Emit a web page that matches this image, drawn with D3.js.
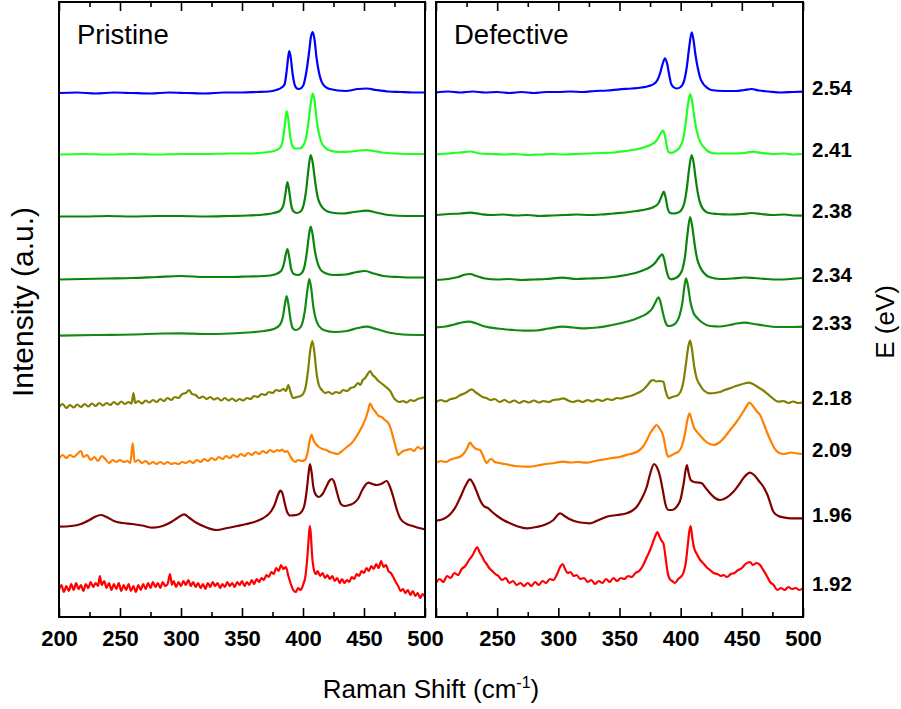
<!DOCTYPE html>
<html>
<head>
<meta charset="utf-8">
<script src="https://cdn.jsdelivr.net/npm/d3@7"></script>
<style>
  body { margin: 0; background: #fff; }
  text { font-family: Arial, "Liberation Sans", sans-serif; }
</style>
</head>
<body>
<script>
// excitation energies (eV), top to bottom
const energies = ["2.54", "2.41", "2.38", "2.34", "2.33", "2.18", "2.09", "1.96", "1.92"];
// vertical stacking offset of each spectrum (a.u.)
const offsets = [525, 463, 402, 338, 290, 215, 163, 98, 29];
const colors = ["#0000ff", "#22ff22", "#0a840a", "#0a840a", "#138a13", "#808000", "#ff8000", "#800000", "#ff0000"];

// spectra: [Raman shift (cm-1), intensity above offset (a.u.)]
// ---- Pristine ----
const p254 = [[200,-1],[215,-0.5],[230,-1.5],[245,-0.5],[260,-1],[275,-1.5],[290,-0.5],[305,-1],[320,-1.5],[335,-0.5],[350,-0.5],[362,0],[372,0.5],[378,2],[382,4],[385,8],[386.5,20],[388,36],[388.8,41],[390,34],[391.5,18],[393,8],[395,3.5],[397,3],[400,6],[403,22],[405,40],[406.5,55],[408,60],[409.5,52],[411,35],[413,20],[415,11],[418,5.5],[422,3],[435,1],[445,3],[452,3.5],[460,2],[470,0.5],[480,0],[490,-0.5],[500,-0.5]];
const p241 = [[200,-0.5],[220,0],[240,-0.5],[260,0],[280,-0.5],[300,0],[320,0],[340,0.5],[355,0.5],[368,1.5],[376,3],[381,6],[383.5,14],[385,28],[386.6,43],[388,34],[389.5,18],[391,9],[393.5,5.5],[397,5.5],[400,8],[402.5,16],[404.5,32],[406.5,52],[408,60.5],[409.5,53],[411,36],[413,21],[415,12],[418,6.5],[422,3.5],[430,2],[440,2.5],[446,3.5],[452,4],[458,3],[465,1.5],[475,0.5],[490,0],[500,0]];
const p238 = [[200,-1.5],[220,-1.5],[240,-1],[260,-1.5],[280,-1],[300,-1],[320,-1.5],[340,-1],[355,-0.5],[368,0.5],[376,2],[381,4],[384,10],[385.7,22],[387.2,33],[388.7,24],[390.3,10],[392,4],[395,2],[398,3.5],[400.5,10],[402.5,24],[404.5,46],[406.3,60],[408,52],[410,33],[412,18],[414.5,10],[418,5],[423,2.5],[432,1.5],[442,3],[452,4.3],[460,2.5],[470,0],[485,-1],[500,-1]];
const p234 = [[200,-0.5],[220,0],[240,0.5],[260,1],[280,2],[300,3],[320,2],[340,2],[355,2.5],[368,3],[377,4.5],[382,8],[384.5,16],[386,25],[387.3,30],[388.7,22],[390.3,10],[392.5,5],[396,4],[399,6],[401.5,14],[403.5,30],[405,45],[406.3,52.3],[407.8,45],[409.5,30],[411.5,18],[414,10],[418,6],[425,4],[435,4.5],[444,7],[450.8,8],[458,5.5],[466,3],[478,2],[490,1.5],[500,1.5]];
const p233 = [[200,-8.7],[230,-8],[260,-7.5],[285,-6.5],[300,-6.3],[320,-7],[340,-6.5],[355,-5.5],[368,-4],[376,-2],[381,2],[383.5,10],[385.2,23],[386.6,31],[388,23],[389.7,8],[391.5,-1],[394,-3],[397,-1.5],[399.5,4],[401.5,16],[403.5,36],[405.2,48],[406.8,38],[408.5,20],[410.5,8],[413,1],[418,-3.5],[426,-5],[436,-4],[445,-1],[452,0.3],[460,-2],[470,-5.5],[482,-7.5],[500,-8]];
const p218 = [[200,-5],[203,-2],[206,-6],[209,-3],[212,-5.5],[215,-2.5],[218,-5],[221,-2],[224,-4.5],[227,-1.5],[230,-4],[233,-1],[236,-3.5],[239,-1],[242,-3],[245,0],[248,-2.5],[251,0.5],[254,-2],[257,0],[259.5,-1.5],[261,9],[262.5,-1],[265,1],[268,-1.5],[271,1.5],[274,-0.5],[277,2],[280,0],[283,3],[286,1],[289,4],[292,2],[295,5],[298,4],[301,8],[304,9],[306.6,12],[309,8],[312,7],[315,4],[318,5.5],[321,3],[324,5],[327,2.5],[330,4],[333,1.5],[336,4],[339,1.5],[342,3.5],[345,1],[348,3],[351,1.5],[354,4],[357,3],[360,6],[363,5],[366,8],[369,7],[372,10],[375,9],[378,12],[381,11],[384,13],[386,11],[388,17],[390,9],[392,4],[395,5],[398,6],[400,8],[402,14],[404,30],[406,52],[407.7,61],[409.3,50],[411,30],[413,17],[415.5,12],[418,9],[421,10],[424,8],[427,10],[430,9],[433,12],[436,11],[439,14],[442,15],[445,19],[447,17],[449,22],[451,24],[453,28],[455,31],[457,27],[459,25],[461,22],[463,20],[466,17],[468,15],[470,13],[472,10],[474,5],[476,2],[479,0],[482,1],[485,-0.5],[488,2],[491,1],[494,3],[497,4],[500,5]];
const p209 = [[200,-5],[203,-1],[206,-4],[209,-1],[212,-3],[215,0],[218,3],[220,-3],[223,-1],[226,-6],[229,-3],[232,-7],[235,-2],[238,-5],[241,-9],[244,-6],[247,-8],[250,-6],[253,-8],[256,-7],[258.5,-9],[260.4,11],[262,-8],[265,-6],[268,-9],[271,-7],[274,-10],[277,-8],[280,-10],[283,-8],[286,-10],[289,-8],[292,-10],[295,-9],[298,-10],[301,-8],[304,-9],[307,-7],[310,-9],[313,-6],[316,-8],[319,-5],[322,-7],[325,-4],[328,-6],[331,-3],[334,-5],[337,-2],[340,-4],[343,-1],[346,-3],[349,0],[352,-2],[355,1],[358,-1],[361,2],[364,0],[367,3],[370,1],[373,4],[376,2],[379,4],[381,3],[383,4.5],[385,2],[387,3],[389,-1],[391,-5],[393.5,-8],[396,-6],[399,-7],[401.6,-6],[403.5,0],[405.3,12],[407,19.5],[408.5,14],[410.5,10],[413,7],[416,5],[419,4],[422,2],[425,1],[428,0],[431,2],[434,5],[437,8],[440,11],[443,16],[446,22],[449,29],[451.5,36],[453.5,44],[454.9,50.5],[457,46],[459.5,42],[462,38],[464.5,37],[467,34],[470,31],[472,25],[474,16],[476,7],[478,-1],[480,1],[482,3],[485,4],[488,5],[491,3],[494,7],[497,5],[500,8]];
const p196 = [[200,-7.7],[210,-7],[218,-5],[225,-1],[230,2.5],[234.4,4],[239,2],[245,-2],[252,-4],[260,-5],[268,-6.5],[277,-8.7],[285,-7],[292,-3],[297,1],[302.5,4.7],[307,1],[313,-4],[320,-8],[329,-11],[338,-9],[346,-7],[353.6,-5],[360,-3],[366,0],[370,3],[374,8],[377,15],[379.5,24],[381.4,28.3],[383.3,25],[385,16],[387,7],[389.5,3.5],[394.5,4],[398,6],[401,13],[403,28],[404.6,46],[405.7,55],[407,47],[408.5,32],[410.6,24],[413,22],[416,25],[419,32],[421.5,38],[423.5,40],[425.5,37],[428,26],[431,15],[434,13],[438,14],[441.3,15.7],[445,20],[449,30],[453.6,36.3],[457,35],[460.4,34],[464,35],[468.6,38],[471,33],[474,22],[477,9],[480,0],[485,-5],[490,-7],[495,-9],[500,-10.3]];
const p192 = [[200,-2],[202,3],[204,-4],[206,2],[208,-3],[210,4],[212,-2],[214,5],[216,-1],[218,3],[220,-3],[222,4],[224,0],[226,6],[228,1],[230,5],[232,2],[233.5,12],[235,3],[237,7],[239,0],[241,5],[243,-2],[245,4],[247,-1],[249,5],[251,-3],[253,3],[255,-2],[257,4],[259,-3],[261,2],[263,-4],[265,3],[267,-2],[269,4],[271,-1],[273,5],[275,0],[277,6],[279,1],[281,5],[283,0],[285,6],[287,2],[289,4],[291,14],[292.5,3],[294,7],[296,1],[298,6],[300,2],[302,7],[304,3],[306,8],[308,2],[310,6],[312,1],[314,5],[316,0],[318,4],[320,-1],[322,5],[324,1],[326,6],[328,2],[330,5],[332,0],[334,4],[336,1],[338,6],[340,2],[342,5],[344,1],[346,6],[348,3],[350,7],[352,2],[354,6],[356,3],[358,8],[360,4],[362,9],[364,6],[366,10],[368,8],[370,13],[372,11],[374,16],[376,14],[378,20],[380,17],[382,23],[384,19],[386,21],[388,12],[390,4],[392,-2],[394,-4],[396,0],[398,-2],[400,3],[402,12],[403.5,30],[405,55],[405.7,62],[406.5,52],[407.5,32],[409,18],[410.6,14],[412,17],[414,12],[416,15],[418,10],[420,13],[422,9],[424,12],[426,7],[428,10],[430,5],[432,9],[434,5],[436,8],[438,6],[440,11],[442,9],[444,14],[446,12],[448,17],[450,15],[452,20],[454,17],[456,22],[458,19],[460,24],[462,20],[464,27],[466,21],[468,23],[470,17],[472,15],[474,11],[476,6],[478,2],[480,-3],[482,-1],[484,-5],[486,-2],[488,-7],[490,-3],[492,-8],[494,-5],[496,-10],[498,-6],[500,-9]];

// ---- Defective ----
const d254 = [[200,-0.5],[210,0.5],[220,-0.5],[230,0.5],[240,-0.5],[250,0],[260,-1],[270,0],[280,-1],[290,0],[300,0],[310,0.5],[320,0],[330,1],[340,1.5],[350,2.7],[360,3.5],[368,4.5],[374,6],[378,8],[381,12],[383,18],[385,27],[387.2,33.7],[389,28],[390.5,18],[392,9],[394,5],[396.8,3.5],[400,5],[403,12],[405,25],[407,45],[409,59.7],[410.5,52],[412,38],[414,24],[416,14],[418.5,8],[421.2,4.7],[425,2],[435,1],[445,1],[452,2],[458,3],[464,1.5],[472,0.5],[482,-0.5],[492,0],[500,0.3]];
const d241 = [[200,-0.5],[210,0.5],[220,1.5],[228,2.5],[236,0.5],[245,0],[255,-0.5],[265,0],[275,-1],[285,-0.5],[295,0],[305,-0.5],[315,0],[325,0.5],[335,1],[345,1.5],[355,3],[363,4.5],[370,6.5],[376,9.5],[380,13],[383,19],[385.4,23.3],[387,19],[388.5,9],[390,2],[392.5,1.2],[396,3],[399.5,7.3],[402,15],[404,30],[406,50],[407.7,60],[409.3,53],[411,38],[413,24],[415,15],[418.6,7.3],[422,3],[427,0.7],[435,0.5],[445,0.5],[452,1],[459,2.3],[466,1],[475,0],[485,0.5],[492,-0.5],[500,0]];
const d238 = [[200,0],[210,1],[220,1.5],[228,2.3],[236,1],[245,0],[255,0.5],[265,-0.5],[275,0],[285,-1],[295,-0.5],[305,0],[315,0.5],[325,0],[335,0.5],[345,1.5],[355,2.5],[364,4],[372,5.7],[378,8],[382,12],[384.5,19],[386.2,23.3],[387.8,17],[389.5,6],[391.5,2],[394,1.5],[397,2],[400,4],[403,12],[405,26],[407,47],[409,60],[410.6,52],[412.3,36],[414.3,20],[416.5,10],[419,5],[423,2],[430,1],[440,0.5],[450,1],[458,2],[466,1],[475,0],[485,0.5],[492,-0.5],[500,-0.7]];
const d234 = [[200,-1],[210,0],[218,2],[224,4.5],[228,5],[233,3],[240,0.5],[250,-0.5],[260,0],[270,-1],[280,-0.5],[290,0],[303.6,1.3],[315,0],[325,0.5],[335,1],[345,2],[355.5,4],[363,6],[370,9],[375,12],[379,16],[382,21],[385,24.7],[386.5,20],[388.5,8],[390.5,1],[392.6,-0.3],[396,1],[399,4],[401.5,10],[403.5,22],[405.5,44],[407.7,62],[409.5,52],[411.5,34],[413.5,20],[415.8,12.3],[419,6],[424,1.7],[432,0],[442,0.5],[452,1.5],[460,1],[470,0],[480,-0.5],[490,0],[500,1]];
const d233 = [[200,-0.3],[208,0.5],[215,2.5],[221,4.5],[227,5.3],[233,3.5],[240,0.5],[250,-1.5],[263,-3],[272,-3.7],[282,-3.5],[292,-1.5],[303.6,0.3],[312,-0.5],[322,-1.3],[332,-0.5],[342,1.5],[350.8,3.7],[358,6],[365,9],[372.6,13.7],[376.5,18],[379.5,25],[381.8,29.7],[383.5,25],[385.5,14],[387.5,5],[390,1],[393,1.5],[396,4],[399,11],[401.5,25],[403,40],[404.4,48.7],[406,41],[408,25],[410.5,14],[413,9.7],[417,5],[424,1],[432,0.5],[440,2],[446,3.5],[452.6,4.3],[460,3],[468,1.5],[478,0],[490,0],[500,0.3]];
const d218 = [[200,0],[204,2],[208,0.5],[212,3],[216,4],[220,7],[224,9],[227,11.5],[229.2,12.7],[232,10],[235,7.5],[238,5],[241,4],[244.7,2],[248,3],[252,0],[256,2],[260,-0.5],[264,1.5],[268,-1],[272,1],[276,-0.5],[280,1.5],[284,-0.5],[288,1],[292,0],[296,2],[300,2.5],[304,3.7],[308,1.5],[312,0],[316,1.5],[320,0],[324,2],[328,0.5],[332,2.5],[336,1],[340,3],[344,2],[348,4],[351,3.5],[355,5],[359,6],[363,8],[367,10.3],[370,13],[373,17],[375.5,21],[377.7,22],[380,20.5],[382.5,21],[385.9,20.3],[387.5,12],[389,6],[390.5,3.7],[393,5],[396,6],[398,7],[400.5,12],[402.5,22],[404.5,40],[406.3,56],[407.7,61.3],[409.2,53],[411,36],[413,24],[415.8,17],[419,11.5],[424,8.7],[428,9],[432,10],[436,12],[440.3,13.7],[444,15.5],[448,17],[452,18.5],[455.4,19.3],[459,18],[463,15],[467,12],[470.4,8.7],[474,5],[477,2],[480,0.3],[484,1],[488,-1],[492,0.5],[496,-1],[500,-0.3]];
const d209 = [[200,-8.7],[204,-7],[208,-8],[212,-5.5],[216,-4],[220,-2.5],[223,1],[225.5,6],[227.8,11.3],[230,8],[233,5],[236,4],[238.5,-2],[241.4,-9],[243.5,-6],[245.5,-5],[248,-8],[252,-9],[256,-10],[260.5,-11],[265,-12],[270,-12.5],[276.9,-12.7],[283,-11.5],[290,-10],[297,-9],[303.6,-7.7],[310,-8.5],[316,-8],[323.2,-8.7],[330,-7],[337,-5.5],[344,-4],[350.8,-2.7],[357,-0.5],[364.4,2.3],[369,7],[372,13],[375,20.7],[378,26],[380.4,29],[382.5,26],[385.9,17.3],[387.5,7],[389.6,-2.7],[393,-1],[396,1],[398.2,2.3],[401,8],[403.5,20],[405.5,34],[407.2,40.7],[409,34],[411,26],[413.2,22.3],[417,17],[421,12],[426.8,9],[431,11],[436,17],[440.4,24],[445,31],[450,40],[453.5,47],[456.2,51.3],[459,48],[462,43],[464.9,39],[468,30],[470.5,22],[473.3,14],[476.5,6],[480.1,1.3],[485,0],[490,1.5],[495,0.5],[500,0]];
const d196 = [[200,-1.7],[206,0],[211,4],[216,12],[220,22],[224,33],[227.8,39.7],[231,34],[234,25],[236,19],[239,13],[242.8,10.7],[246,7],[250,3],[255,-1],[261,-4.5],[267,-7.5],[274.2,-9.3],[282,-8],[290.5,-5],[296,-1],[301.4,5.7],[305,3],[309,0],[312.3,-1.7],[318,-3.5],[325.9,-4.3],[333,-1],[339.6,2.3],[348,4],[355.9,5.7],[360,8],[364.1,12.3],[368,20],[372.3,32.3],[375,45],[378.3,55],[380.5,52],[383.2,42.3],[385.5,28],[387.5,15],[390,9],[393,9],[396.8,12.3],[400,20],[402.5,36],[405,54],[406.5,46],[408.2,39],[411,37],[414,36.5],[417.2,35.7],[420.5,31],[424,25.7],[428,21],[432.2,19],[437,21],[443.1,27.3],[448,35],[452,42],[456.7,46.3],[460,44],[464,38],[467.6,32.3],[471,24],[475.8,7.3],[480,3],[484,1.7],[490,0.7],[500,0.7]];
const d192 = [[200,5],[203,9],[206,6],[209,12],[212,10],[215,15],[218,13],[221,19],[224,22],[227,28],[230,33],[232,38],[233.8,41],[235.5,36],[237.5,32],[239.5,27],[241.4,24],[243.5,20],[246,17],[248.5,14],[251,12],[254,8],[257,10],[260,5],[263,7],[266,3],[269,5],[272,2],[275,5],[278,2],[281,6],[284,3],[287,7],[290,5],[293,9],[296,8],[299,14],[301.5,21],[303.6,24],[305.5,19],[307.5,15],[310,16],[312.5,12],[315,13],[318,9],[321,10],[324,6],[327,8],[330,4],[333,7],[336,5],[339,9],[342,6],[345,10],[348,7],[351,10],[354,9],[357,12],[360,11],[363,15],[366,17],[369,22],[372,30],[375,38],[378,48],[380,54],[381,56],[382.5,52],[384,48],[386,44],[387.5,32],[389,18],[391,9],[393,7],[395.4,5],[398,9],[400,11],[402.2,15],[404,24],[406,45],[407,56],[408.2,62],[409.5,50],[411,40],[413.2,34],[416,28],[419,24],[421,21],[424,18],[427,15],[430,14],[433,12],[435,13],[437.7,11],[441,14],[444,15],[447,18],[450,20],[453,24],[456.7,26],[459,23],[462,25],[464.9,23],[467,19],[470,13],[473.1,6],[476,3],[479,-2],[482,0],[485,-2],[488,1],[491,-1],[494,0],[497,-2],[500,-0.3]];

const pristine = [p254, p241, p238, p234, p233, p218, p209, p196, p192];
const defective = [d254, d241, d238, d234, d233, d218, d209, d196, d192];

const panels = [
  { name: "Pristine", spectra: pristine, x0: 59, x1: 425, firstLabel: 200 },
  { name: "Defective", spectra: defective, x0: 436, x1: 803, firstLabel: 250 }
];

const width = 901, height = 709;
const plotTop = 2, plotBottom = 617;

const svg = d3.select("body").append("svg")
  .attr("width", width)
  .attr("height", height)
  .style("background", "#fff");

const y = d3.scaleLinear().domain([0, 615]).range([plotBottom, plotTop]);

panels.forEach((p, pi) => {
  const x = d3.scaleLinear().domain([200, 500]).range([p.x0, p.x1]);
  const g = svg.append("g");

  g.append("clipPath").attr("id", "clip" + pi)
    .append("rect")
    .attr("x", p.x0).attr("y", plotTop)
    .attr("width", p.x1 - p.x0).attr("height", plotBottom - plotTop);

  const line = (off) => d3.line()
    .x((d) => x(d[0]))
    .y((d) => y(off + d[1]))
    .curve(d3.curveMonotoneX);

  g.append("g")
    .attr("clip-path", `url(#clip${pi})`)
    .selectAll("path")
    .data(p.spectra)
    .join("path")
    .attr("fill", "none")
    .attr("stroke", (d, i) => colors[i])
    .attr("stroke-width", 2.2)
    .attr("stroke-linejoin", "round")
    .attr("d", (d, i) => line(offsets[i])(d));

  // minor ticks at 25s, major at 50s, on top and bottom, pointing in
  const minor = d3.range(225, 500, 50);
  const major = d3.range(200, 501, 50);
  g.append("g").attr("transform", `translate(0,${plotBottom})`)
    .call(d3.axisBottom(x).tickValues(minor).tickSize(-5).tickFormat(""))
    .call((s) => s.select(".domain").remove());
  g.append("g").attr("transform", `translate(0,${plotTop})`)
    .call(d3.axisTop(x).tickValues(minor).tickSize(-5).tickFormat(""))
    .call((s) => s.select(".domain").remove());
  g.append("g").attr("transform", `translate(0,${plotTop})`)
    .call(d3.axisTop(x).tickValues(major).tickSize(-9).tickFormat(""))
    .call((s) => s.select(".domain").remove());

  const bx = g.append("g").attr("transform", `translate(0,${plotBottom})`)
    .call(d3.axisBottom(x).tickValues(major).tickSize(-9).tickPadding(13).tickFormat(d3.format("d")))
    .call((s) => s.select(".domain").remove());
  bx.selectAll(".tick text")
    .style("display", (d) => (d < p.firstLabel ? "none" : null))
    .attr("fill", "#000")
    .style("font-size", "22px")
    .style("font-weight", "bold")
    .style("font-family", "Arial, 'Liberation Sans', sans-serif");
  g.selectAll(".tick line").attr("stroke", "#000").attr("stroke-width", 1.6);

  g.append("rect")
    .attr("x", p.x0).attr("y", plotTop)
    .attr("width", p.x1 - p.x0).attr("height", plotBottom - plotTop)
    .attr("fill", "none")
    .attr("stroke", "#000")
    .attr("stroke-width", 2);

  g.append("text")
    .attr("x", p.x0 + 18)
    .attr("y", 44)
    .style("font-size", "27.5px")
    .text(p.name);
});

// energy labels on the right
svg.append("g")
  .selectAll("text")
  .data(energies)
  .join("text")
  .attr("x", 812)
  .attr("y", (d, i) => y(offsets[i]) - 5)
  .attr("dominant-baseline", "central")
  .style("font-size", "20.5px")
  .style("font-weight", "bold")
  .text((d) => d);

svg.append("text")
  .attr("transform", "translate(33,302) rotate(-90)")
  .attr("text-anchor", "middle")
  .style("font-size", "30px")
  .text("Intensity (a.u.)");

svg.append("text")
  .attr("transform", "translate(894,322) rotate(-90)")
  .attr("text-anchor", "middle")
  .style("font-size", "26px")
  .text("E (eV)");

const xl = svg.append("text")
  .attr("x", 431)
  .attr("y", 698)
  .attr("text-anchor", "middle")
  .style("font-size", "26px");
xl.append("tspan").text("Raman Shift (cm");
xl.append("tspan").attr("dy", -10).style("font-size", "16px").text("-1");
xl.append("tspan").attr("dy", 10).text(")");
</script>
</body>
</html>
